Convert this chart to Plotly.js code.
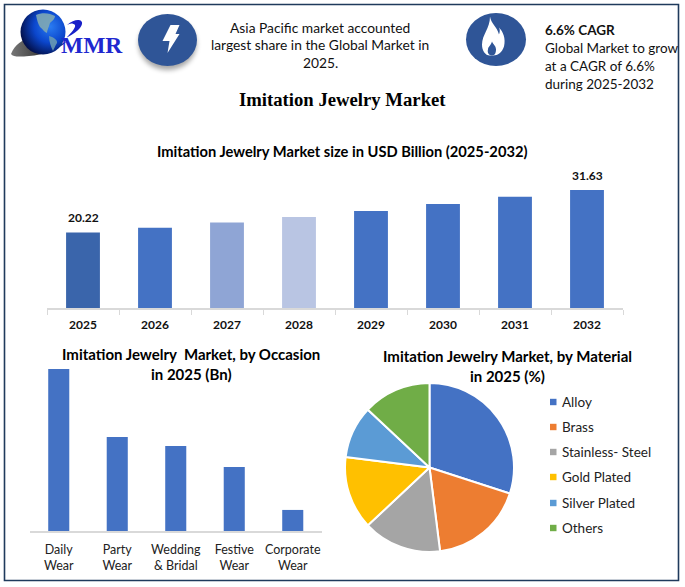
<!DOCTYPE html>
<html>
<head>
<meta charset="utf-8">
<script src="https://cdn.plot.ly/plotly-3.0.1.min.js"></script>
<style>html,body{margin:0;padding:0;background:#fff;overflow:hidden}#chart{width:685px;height:587px}</style>
</head>
<body>
<div id="chart"></div>
<script>
var years = ['2025','2026','2027','2028','2029','2030','2031','2032'];
var marketSize = [20.22,21.5,22.9,24.4,26.0,27.9,29.8,31.63];
var yearColors = ['#3a65ab','#4472c4','#8fa5d5','#b9c5e3','#4472c4','#4472c4','#4472c4','#4472c4'];
var labelledYears = ['2025','2032'];
var labelledValues = ['20.22','31.63'];

var occasions = ['Daily<br>Wear','Party<br>Wear','Wedding<br>&amp; Bridal','Festive<br>Wear','Corporate<br>Wear'];
var occasionValues = [7.69,4.46,4.03,3.04,1.0];

var materials = ['Alloy','Brass','Stainless- Steel','Gold Plated','Silver Plated','Others'];
var materialShares = [30,18,15,14,10,13];
var materialColors = ['#4472c4','#ed7d31','#a5a5a5','#ffc000','#5b9bd5','#70ad47'];

var W = 685, H = 587;
var SANS = 'Lato, "Open Sans", sans-serif';
var SERIF = '"Liberation Serif", serif';
function px(x){return x/W;}
function py(y){return 1-y/H;}

function note(text,x,y,size,opts){
  opts = opts||{};
  return {text:text,xref:'paper',yref:'paper',x:px(x),y:py(y),showarrow:false,
    xanchor:opts.anchor||'center',yanchor:'middle',
    font:{family:opts.family||SANS,size:size,color:opts.color||'#111111',weight:opts.weight||'normal'}};
}

var annotations = [
  note('MMR',92,45,23.5,{family:SERIF,color:'#2027cf',weight:'bold'}),
  note('Asia Pacific market accounted',320,27,13.8),
  note('largest share in the Global Market in',320,45,13.8),
  note('2025.',320,63,13.8),
  note('6.6% CAGR',543,30,13.5,{anchor:'left',weight:'bold'}),
  note('Global Market to grow',543,48,13.5,{anchor:'left'}),
  note('at a CAGR of 6.6%',543,66,13.5,{anchor:'left'}),
  note('during 2025-2032',543,84,13.5,{anchor:'left'}),
  note('Imitation Jewelry Market',342,99,18.7,{family:SERIF,weight:'bold',color:'#000'}),
  note('Imitation Jewelry Market size in USD Billion (2025-2032)',342,151,14.7,{weight:'bold',color:'#000'}),
  note('Imitation Jewelry  Market, by Occasion',191,354,15,{weight:'bold',color:'#000'}),
  note('in 2025 (Bn)',191,374,15,{weight:'bold',color:'#000'}),
  note('Imitation Jewelry Market, by Material',507,356,15,{weight:'bold',color:'#000'}),
  note('in 2025 (%)',507,376,15,{weight:'bold',color:'#000'})
];

labelledYears.forEach(function(yr,i){
  annotations.push({text:labelledValues[i],xref:'x',yref:'y',x:years.indexOf(yr),y:parseFloat(labelledValues[i]),
    yshift:15,showarrow:false,yanchor:'middle',font:{family:SANS,size:12,weight:'bold',color:'#111'}});
});

var legendY = [402,427,452,477,503,528];
var shapes = [
  {type:'rect',xref:'paper',yref:'paper',x0:px(4.5),x1:px(678.5),y0:py(4.5),y1:py(580.5),
   line:{color:'#1f3a5c',width:1.6},fillcolor:'rgba(0,0,0,0)'}
];
materials.forEach(function(m,i){
  annotations.push(note(m,560,legendY[i],13.5,{anchor:'left',color:'#222'}));
  shapes.push({type:'rect',xref:'paper',yref:'paper',x0:px(550),x1:px(556.5),
    y0:py(legendY[i]-3.2),y1:py(legendY[i]+3.2),line:{width:0},fillcolor:materialColors[i]});
});

function svgUri(w,h,body){
  return 'data:image/svg+xml;charset=utf-8,'+encodeURIComponent(
    '<svg xmlns="http://www.w3.org/2000/svg" width="'+w+'" height="'+h+'" viewBox="0 0 '+w+' '+h+'">'+body+'</svg>');
}
function placed(src,x,y,w,h){
  return {source:src,xref:'paper',yref:'paper',x:px(x),y:py(y),sizex:w/W,sizey:h/H,
    xanchor:'left',yanchor:'top',sizing:'stretch',layer:'below'};
}

var logoSvg = svgUri(125,60,
 '<defs><radialGradient id="g" cx="0.66" cy="0.38" r="0.72">'+
 '<stop offset="0" stop-color="#2a7cf2"/><stop offset="0.5" stop-color="#0b46cc"/><stop offset="1" stop-color="#020a3c"/></radialGradient>'+
 '<linearGradient id="s" x1="0" x2="1" y1="0" y2="0"><stop offset="0" stop-color="#777"/><stop offset="0.45" stop-color="#444"/><stop offset="1" stop-color="#0c2a9c"/></linearGradient></defs>'+
 '<path d="M6 49 C10 39 18 35 24 33 C18 39 20 44 32 44 C42 44 52 42 62 36 C54 45 38 50 24 51 C14 52 8 52 6 49 Z" fill="url(#s)"/>'+
 '<circle cx="38" cy="27" r="22.5" fill="url(#g)"/>'+
 '<path d="M31 10 C37 7 45 8 50 11 C50 14 47 16 45 18 C44 22 42 25 42 28 C39 27 38 24 35 22 C33 19 32 15 31 10 Z" fill="#7fa9b4" opacity="0.9"/>'+
 '<path d="M44 31 C48 32 53 35 52 38 C50 41 49 44 48 46 C46 42 44 36 44 31 Z" fill="#6f9fb0" opacity="0.85"/>'+
 '<path d="M62 20 C70 13 78 14 77 19 C76 24 70 28 61 33 C66 28 71 23 70 20 C68 18 65 18 62 20 Z" fill="#1820c8"/>');

var boltSvg = svgUri(70,70,
 '<defs><filter id="b" x="-30%" y="-30%" width="160%" height="160%"><feGaussianBlur stdDeviation="2.5"/></filter></defs>'+
 '<ellipse cx="35" cy="36" rx="29" ry="26" fill="#000" opacity="0.35" filter="url(#b)"/>'+
 '<ellipse cx="35" cy="32" rx="29.5" ry="26" fill="#2f5597"/>'+
 '<path d="M38 17 L47 17 L43 26 L47 26 L35 45 L37 33 L30 33 Z" fill="#fff"/>');

var flameSvg = svgUri(70,70,
 '<ellipse cx="35" cy="35" rx="30" ry="26.5" fill="#2f5597"/>'+
 '<path d="M29 12 C30 19 36 22 38 30 C39 27 39 25 38 23 C42 27 45 34 43 42 C41 48 37 51 32 51 L29 51 C24 51 21 46 21 40 C21 30 29 24 29 12 Z" fill="#fff"/>'+
 '<path d="M31 37 C32 40 35 41 35 45 C35 48 34 51 31 51 C28 51 26 48 27 45 C27 42 30 41 31 37 Z" fill="#2f5597"/>');

var images = [
  placed(logoSvg,5,5,125,60),
  placed(boltSvg,132.5,8,70,70),
  placed(flameSvg,461,4.5,70,70)
];

var data = [
  {type:'bar',x:years,y:marketSize,xaxis:'x',yaxis:'y',width:0.47,marker:{color:yearColors},
   hoverinfo:'x+y',showlegend:false},
  {type:'bar',x:occasions,y:occasionValues,xaxis:'x2',yaxis:'y2',width:0.36,marker:{color:'#4472c4'},
   hoverinfo:'y',showlegend:false},
  {type:'pie',labels:materials,values:materialShares,sort:false,direction:'clockwise',rotation:0,
   marker:{colors:materialColors,line:{color:'#ffffff',width:2}},textinfo:'none',
   domain:{x:[px(345),px(514)],y:[py(552),py(383)]},showlegend:false}
];

var layout = {
  width:W,height:H,margin:{l:0,r:0,t:0,b:0},paper_bgcolor:'#ffffff',plot_bgcolor:'rgba(0,0,0,0)',
  showlegend:false,
  xaxis:{domain:[px(47),px(623)],type:'category',anchor:'y',tickson:'boundaries',ticks:'outside',ticklen:5,
    tickangle:0,tickcolor:'#d9d9d9',linecolor:'#d9d9d9',linewidth:1.5,showgrid:false,zeroline:false,
    tickfont:{family:SANS,size:12,weight:'bold',color:'#111'},ticklabelstandoff:5},
  yaxis:{domain:[py(308),py(178)],range:[0,34.85],anchor:'x',visible:false,showgrid:false,zeroline:false},
  xaxis2:{domain:[px(29.5),px(322)],type:'category',anchor:'y2',ticks:'',linecolor:'#d9d9d9',linewidth:1.5,
    tickangle:0,showgrid:false,zeroline:false,tickfont:{family:SANS,size:12.5,color:'#222'},ticklabelstandoff:6},
  yaxis2:{domain:[py(531),py(365)],range:[0,7.88],anchor:'x2',visible:false,showgrid:false,zeroline:false},
  annotations:annotations,shapes:shapes,images:images
};
Plotly.newPlot('chart',data,layout,{displayModeBar:false,staticPlot:true});
</script>
</body>
</html>
